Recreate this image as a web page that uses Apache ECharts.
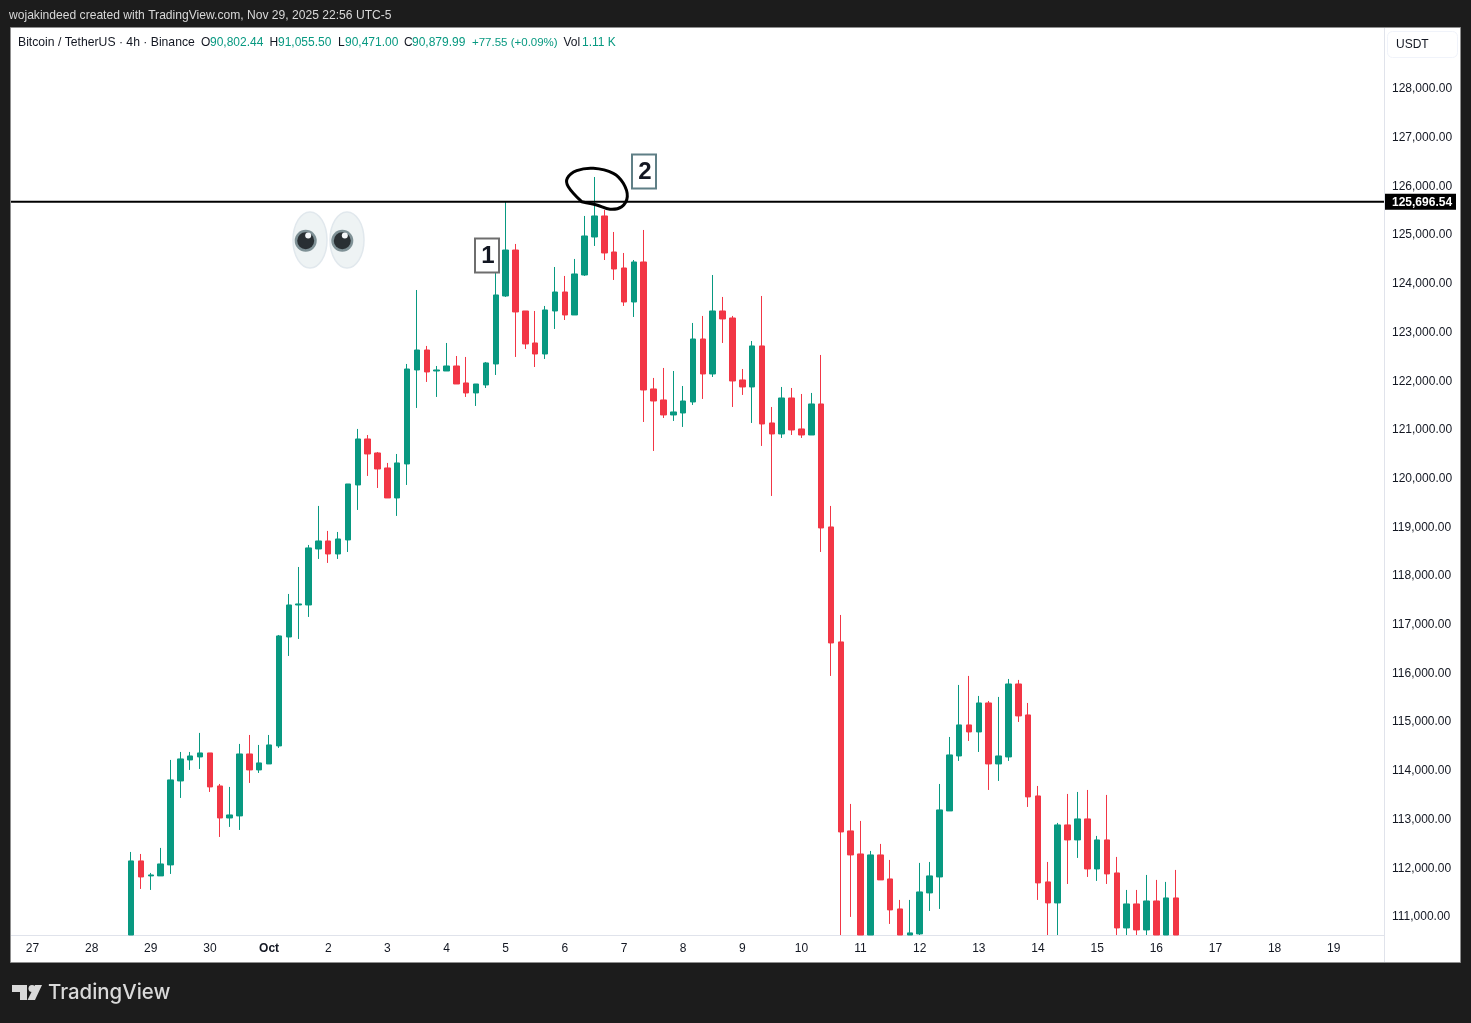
<!DOCTYPE html>
<html><head><meta charset="utf-8">
<style>html,body{margin:0;padding:0;background:#1c1c1c}#c{width:1471px;height:1023px}</style>
<script src="https://cdn.jsdelivr.net/npm/echarts@6/dist/echarts.min.js"></script>
</head><body><div id="c"></div>
<script>
const dayLabels = ['27','28','29','30','Oct','2','3','4','5','6','7','8','9','10','11','12','13','14','15','16','17','18','19'];
const yTicks = [111000,112000,113000,114000,115000,116000,117000,118000,119000,120000,121000,122000,123000,124000,125000,126000,127000,128000];
const levelPrice = 125696.54;
const opens = [110300,112131,111823,111823,112049,113773,114204,114266,114348,113670,113013,113055,114327,113999,114122,114492,116729,117386,117386,118536,118700,118433,118721,119850,120794,120507,120199,119583,120281,122211,122621,122190,122190,122293,121944,121739,121903,122334,123730,124674,123422,122765,122539,123422,123812,123340,124161,124941,125373,124633,124305,123607,124428,121821,121595,121287,121328,121554,122847,122129,123422,123278,122006,121862,122704,121123,120897,121636,121000,120876,121513,118988,116627,112747,112274,110400,112254,111761,111145,110450,110632,111474,111802,113157,114286,114923,114779,115374,114122,114266,115764,115128,113465,111700,111268,112870,112562,112993,111966,112562,111884,110755,111248,110714,111309,110500,111371];
const closes = [112131,111802,111843,112069,113794,114225,114286,114348,113650,113013,113075,114327,113999,114143,114512,116750,117386,117407,118557,118700,118433,118741,119870,120794,120486,120178,119583,120302,122231,122621,122170,122211,122293,121923,121739,121923,122355,123751,124674,123402,122745,122539,123443,123812,123340,124182,124962,125373,124613,124284,123607,124428,121800,121574,121287,121349,121574,122847,122129,123422,123258,121985,121862,122704,121102,120897,121636,120979,120876,121513,118967,116606,112726,112254,110300,112254,111741,111125,110300,110653,111494,111823,113178,114307,114923,114779,115374,114122,114286,115764,115108,113445,111679,111268,112870,112562,112993,111966,112562,111864,110755,111248,110714,111309,110500,111371,110500];
const highs = [112315,112274,111884,112398,114204,114368,114368,114759,114348,113711,113650,114533,114717,114512,114717,116770,117612,118166,118618,119419,118906,118885,119870,121000,120876,120527,120302,120486,122334,123853,122704,122293,122765,122498,122478,121923,122375,124325,125660,124798,123422,123422,123525,124325,124141,124490,125373,126173,125496,125044,124613,124469,125085,122047,122252,122190,121882,123176,123320,124161,123710,123320,122231,122806,123730,121451,121862,121841,121718,121739,122519,119419,117181,113301,112952,112336,112480,112151,111330,111330,112090,112110,113711,114676,115744,115929,115518,115415,115498,115867,115847,115374,113670,112110,112911,113506,113547,113588,112644,113486,112213,111535,111535,111843,111741,111700,111946];
const lows = [110100,111556,111535,111823,111864,113424,113999,114019,113547,112623,112829,112767,113732,113937,114122,114451,116339,116688,117140,118331,118249,118331,118474,119337,120035,119788,119583,119214,119850,121431,121965,121657,122190,121923,121657,121472,121841,122108,123710,122478,122642,122272,122437,123053,123237,123340,124141,124757,124469,124059,123525,123299,121143,120548,121225,121164,121041,121492,121616,122067,122765,121451,121698,121123,120651,119624,120815,120876,120815,120876,118474,115929,102000,110981,109500,109800,111741,110837,110100,110300,110590,111104,111145,113157,114184,114594,114368,113588,113773,114184,114984,113239,111330,110500,110400,111658,112192,111802,111720,111658,110500,110400,110400,110500,110300,110300,110200];
const firstCandleIndex = 11;
const categoryCount = 138;
const perDay = 6;
const axisMin = 110610, axisMax = 129232;

const categories = Array.from({length: categoryCount}, (_, i) =>
  (i - 1) % perDay === 0 && dayLabels[(i - 1) / perDay] !== undefined ? dayLabels[(i - 1) / perDay] : '');
const inView = v => Math.max(v, axisMin);
const candles = categories.map((_, i) => {
  const j = i - firstCandleIndex;
  return j >= 0 && j < opens.length ? [inView(opens[j]), inView(closes[j]), inView(lows[j]), highs[j]] : ['-','-','-','-'];
});
const fmt = v => v.toLocaleString('en-US', {minimumFractionDigits: 2, maximumFractionDigits: 2});

const GREEN = '#089981', RED = '#F23645', FONT = '"Liberation Sans", Arial, sans-serif';
const txt = (text, x, y, fill, extra) => ({type:'text', z:30, style:Object.assign({text, x, y, fill, font:'12px '+FONT, verticalAlign:'middle'}, extra||{})});

const chart = echarts.init(document.getElementById('c'), null, {renderer:'canvas', width:1471, height:1023});
chart.setOption({
  animation:false,
  backgroundColor:'#1c1c1c',
  grid:{left:17.7, top:28, width:categoryCount*9.858, bottom:88, containLabel:false},
  xAxis:{type:'category', data:categories, boundaryGap:true, axisLine:{show:false}, axisTick:{show:false}, splitLine:{show:false},
    axisLabel:{interval:0, margin:8, color:'#131722', fontFamily:FONT, fontSize:12, hideOverlap:false,
      formatter:v => v==='Oct' ? '{m|Oct}' : v, rich:{m:{fontWeight:'bold', fontFamily:FONT, fontSize:12, color:'#131722'}}}},
  yAxis:{type:'value', position:'right', min:axisMin, max:axisMax, scale:true, axisLine:{show:false}, axisTick:{show:false}, splitLine:{show:false},
    axisLabel:{customValues:yTicks, margin:13.9, align:'left', color:'#131722', fontFamily:FONT, fontSize:12,
      formatter:v => '{t|' + fmt(v) + '}', rich:{t:{padding:[2,0,0,0], color:'#131722', fontFamily:FONT, fontSize:12}}}},
  series:[{type:'candlestick', data:candles, barWidth:6, clip:true,
    itemStyle:{color:GREEN, color0:RED, borderColor:GREEN, borderColor0:RED, borderColorDoji:GREEN, borderWidth:1}}]
});

const levelY = chart.convertToPixel({yAxisIndex:0}, levelPrice) + 1.5;
const eye = (cx, px) => [
  {type:'ellipse', z:20, shape:{cx, cy:240, rx:17, ry:28}, style:{fill:'#eef3f4', stroke:'#e1e8ed', lineWidth:1.5}},
  {type:'circle', z:21, shape:{cx:px, cy:240.7, r:11}, style:{fill:'#7f9196'}},
  {type:'circle', z:22, shape:{cx:px, cy:240.7, r:8.5}, style:{fill:'#292f33'}},
  {type:'circle', z:23, shape:{cx:px+2.5, cy:235.5, r:3}, style:{fill:'#f5f8fa'}}
];
chart.setOption({graphic:{elements:[
  {type:'rect', z:-10, silent:true, shape:{x:10.5,y:27.5,width:1450,height:935}, style:{fill:'#ffffff', stroke:'#8f8f8f', lineWidth:1}},
  {type:'rect', z:1, shape:{x:11,y:935,width:1373,height:1}, style:{fill:'#e0e3eb'}},
  {type:'rect', z:1, shape:{x:1384,y:28,width:1,height:934}, style:{fill:'#e0e3eb'}},
  {type:'rect', z:1, shape:{x:1387.5,y:31.5,width:70,height:26,r:5}, style:{fill:'#ffffff', stroke:'#f0f3fa', lineWidth:1}},
  txt('USDT',1396,45,'#131722'),
  txt('wojakindeed created with TradingView.com, Nov 29, 2025 22:56 UTC-5',9,15.5,'#d8d8d8',{font:'12.1px '+FONT}),
  txt('Bitcoin / TetherUS · 4h · Binance',18,42.5,'#131722',{font:'12.2px '+FONT}),
  txt('O',201,42.5,'#131722'), txt('90,802.44',210,42.5,GREEN),
  txt('H',269.5,42.5,'#131722'), txt('91,055.50',278,42.5,GREEN),
  txt('L',338,42.5,'#131722'), txt('90,471.00',345,42.5,GREEN),
  txt('C',404,42.5,'#131722'), txt('90,879.99',412,42.5,GREEN),
  txt('+77.55 (+0.09%)',472,42.5,GREEN,{font:'11.5px '+FONT}),
  txt('Vol',563.5,42.5,'#131722'), txt('1.11 K',582,42.5,GREEN),
  {type:'rect', z:15, shape:{x:11,y:levelY-1,width:1373,height:2}, style:{fill:'#000000'}},
  {type:'rect', z:15, shape:{x:1385,y:levelY-8,width:71,height:16}, style:{fill:'#000000'}},
  txt(fmt(levelPrice),1392,levelY+0.5,'#ffffff',{font:'bold 12px '+FONT}),
  {type:'polyline', z:16, shape:{smooth:0.35, points:[[581.7,201.7],[568.3,186.7],[567.3,178.3],[576.7,170.7],[593.3,168.3],[613.3,173.3],[623.3,183.3],[627.3,196.7],[621.7,206.7],[610,209.3],[596.7,205],[581.7,201.7]]}, style:{fill:'none', stroke:'#000000', lineWidth:3, lineCap:'round', lineJoin:'round'}},
  {type:'rect', z:17, shape:{x:475,y:238.5,width:24,height:34}, style:{fill:'#ffffff', stroke:'#6e6e6e', lineWidth:2}},
  txt('1',488,256,'#131722',{align:'center', font:'bold 24px '+FONT}),
  {type:'rect', z:17, shape:{x:632,y:154.5,width:24,height:34}, style:{fill:'#ffffff', stroke:'#5f7f86', lineWidth:2}},
  txt('2',645,172,'#131722',{align:'center', font:'bold 24px '+FONT}),
  ...eye(310,305.7), ...eye(347,342.3),
  {type:'polygon', z:30, shape:{points:[[12,985],[27,985],[27,1000],[20,1000],[20,992],[12,992]]}, style:{fill:'#d9d9d9'}},
  {type:'circle', z:30, shape:{cx:32,cy:988.5,r:3.5}, style:{fill:'#d9d9d9'}},
  {type:'polygon', z:30, shape:{points:[[35,985],[42,985],[35,1000],[27.5,1000]]}, style:{fill:'#d9d9d9'}},
  txt('TradingView',48,993,'#d9d9d9',{font:'500 20.4px Inter, Lato, sans-serif'})
]}});
</script></body></html>
